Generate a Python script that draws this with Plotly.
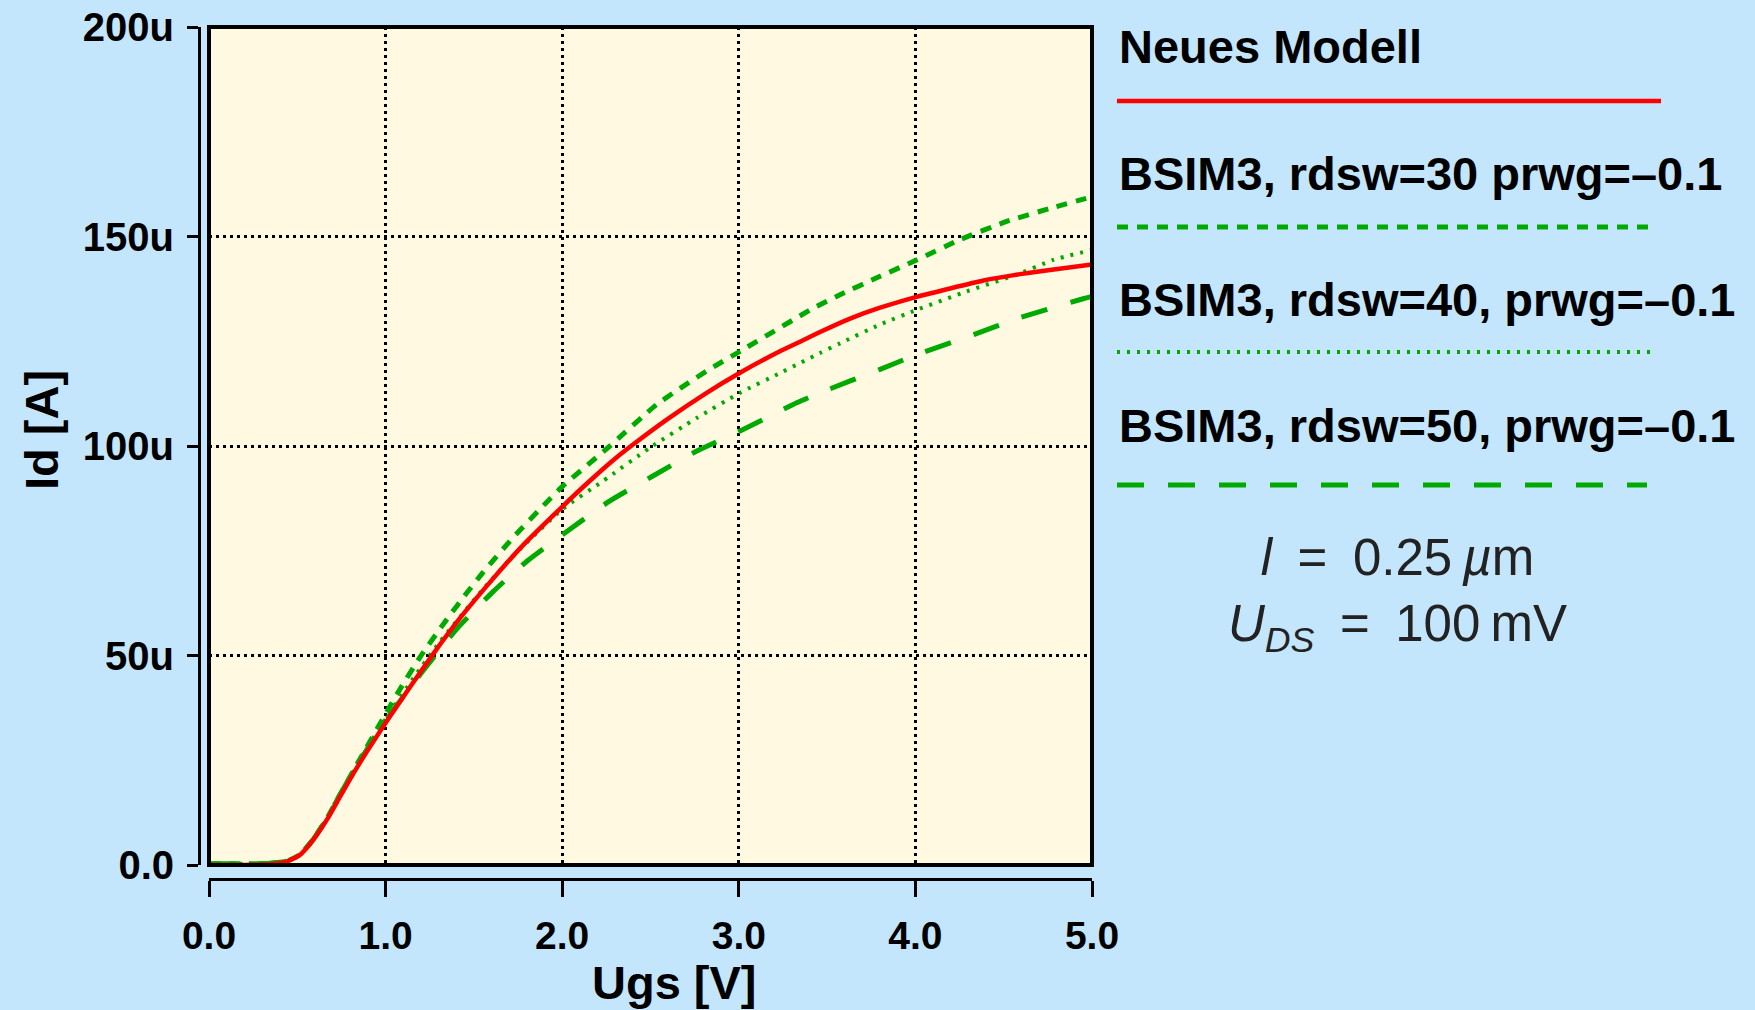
import plotly.graph_objects as go

# ---------------- data ----------------
ugs_neu = [0, 0.2, 0.35, 0.44, 0.515, 0.59, 0.666, 0.742, 0.817, 0.893, 1.006, 1.157, 1.27, 1.421,
           1.61, 1.78, 2.0, 2.157, 2.309, 2.403, 2.592, 2.818, 3.007, 3.233, 3.347, 3.46, 3.63, 3.80,
           4.007, 4.196, 4.385, 4.574, 4.762, 5.0]
id_neu = [0, 0, 0.2, 0.8, 2.4, 6.0, 10.7, 16.3, 21.8, 27.0, 34.3, 43.6, 50.4, 58.9,
          68.4, 76.4, 85.5, 91.7, 97.3, 100.4, 106.3, 112.7, 117.5, 122.6, 124.9, 127.2, 130.4, 133.0,
          135.6, 137.6, 139.5, 140.9, 142.0, 143.3]

ugs_rdsw30 = [0, 0.2, 0.35, 0.44, 0.515, 0.59, 0.666, 0.742, 0.855, 1.006, 1.082, 1.195, 1.346, 1.459,
              1.553, 1.723, 1.912, 2.0, 2.27, 2.535, 2.818, 3.007, 3.422, 3.573, 3.80, 4.007, 4.25,
              4.517, 4.762, 5.0]
id_rdsw30 = [0.3, 0.3, 0.4, 0.9, 2.5, 6.1, 11.0, 16.8, 25.3, 36.5, 42.0, 49.6, 58.6, 64.9,
             69.9, 78.2, 86.6, 90.3, 100.0, 109.9, 117.9, 122.6, 132.9, 136.1, 140.5, 144.4, 149.2,
             153.6, 156.7, 159.5]

ugs_rdsw40 = [0, 0.2, 0.35, 0.44, 0.515, 0.59, 0.666, 0.742, 0.817, 0.893, 1.006, 1.157, 1.308, 1.535,
              1.723, 2.0, 2.233, 2.497, 2.762, 3.007, 3.233, 3.347, 3.46, 3.573, 3.80, 4.007, 4.29,
              4.574, 4.78, 5.0]
id_rdsw40 = [0.3, 0.3, 0.4, 0.9, 2.5, 6.1, 11.0, 16.8, 22.3, 27.9, 35.2, 44.6, 53.3, 65.0,
             73.8, 84.9, 91.7, 99.6, 106.7, 112.7, 117.4, 119.8, 122.2, 124.5, 129.0, 132.5, 136.9,
             140.9, 144.4, 146.8]

ugs_rdsw50 = [0, 0.2, 0.35, 0.44, 0.515, 0.59, 0.666, 0.742, 0.817, 0.893, 1.006, 1.213, 1.40, 1.61,
              1.80, 2.0, 2.27, 2.516, 2.762, 3.007, 3.328, 3.46, 3.80, 4.007, 4.33, 4.59, 4.93, 5.0]
id_rdsw50 = [0.3, 0.3, 0.4, 0.9, 2.5, 6.1, 11.0, 16.8, 22.3, 27.5, 34.8, 46.4, 56.2, 65.3,
             72.5, 78.8, 86.9, 92.9, 98.8, 103.6, 110.3, 112.7, 118.3, 121.8, 126.6, 130.6, 134.9, 135.7]

series_names = ["Neues Modell",
                "BSIM3, rdsw=30 prwg=\u20130.1",
                "BSIM3, rdsw=40, prwg=\u20130.1",
                "BSIM3, rdsw=50, prwg=\u20130.1"]

x_tickvals = [0, 1, 2, 3, 4, 5]
x_ticktext = ["0.0", "1.0", "2.0", "3.0", "4.0", "5.0"]
y_tickvals = [0, 50, 100, 150, 200]
y_ticktext = ["0.0", "50u", "100u", "150u", "200u"]

# ---------------- styles ----------------
RED = "#ff0000"
GREEN = "#00aa00"
BG = "#c4e6fd"
styles = [
    dict(color=RED, width=4.5, dash="solid"),
    dict(color=GREEN, width=5, dash="11px,9px"),
    dict(color=GREEN, width=4, dash="3px,7px"),
    dict(color=GREEN, width=5, dash="27px,24px"),
]
xs = [ugs_neu, ugs_rdsw30, ugs_rdsw40, ugs_rdsw50]
ys = [id_neu, id_rdsw30, id_rdsw40, id_rdsw50]

W, H = 1755, 1010
FONT = "Liberation Sans, Arial, Helvetica, sans-serif"

fig = go.Figure()
order = [3, 2, 1, 0]
for i in order:
    fig.add_trace(go.Scatter(x=xs[i], y=ys[i], mode="lines", name=series_names[i],
                             line=dict(shape="spline", smoothing=0.5, **styles[i]),
                             showlegend=False))

def px_x(p):
    return p / W

def px_y(p):
    return (H - p) / H

xdom = [px_x(209), px_x(1092)]
ydom = [px_y(865), px_y(27)]

fig.update_layout(
    width=W, height=H,
    autosize=False,
    margin=dict(l=0, r=0, t=0, b=0, pad=0, autoexpand=False),
    paper_bgcolor=BG,
    plot_bgcolor="#fef9e0",
    font=dict(family=FONT, color="black"),
    xaxis=dict(domain=xdom, range=[0, 5], anchor="free", position=px_y(879), automargin=False,
               tickvals=x_tickvals, ticktext=x_ticktext,
               ticks="outside", ticklen=16, tickwidth=3, tickcolor="black",
               showline=True, linewidth=3, linecolor="black",
               showgrid=True, gridcolor="black", gridwidth=2.5, griddash="3px,4px",
               zeroline=False, ticklabelstandoff=5,
               tickfont=dict(size=39, family=FONT, weight="bold")),
    yaxis=dict(domain=ydom, range=[0, 200], anchor="free", position=px_x(199), automargin=False,
               tickvals=y_tickvals, ticktext=y_ticktext,
               ticks="outside", ticklen=11, tickwidth=3, tickcolor="black",
               showline=True, linewidth=3, linecolor="black",
               showgrid=True, gridcolor="black", gridwidth=2.5, griddash="3px,4px",
               zeroline=False, ticklabelstandoff=5,
               tickfont=dict(size=40, family=FONT, weight="bold")),
)

# plot frame
fig.add_shape(type="rect", xref="x domain", yref="y domain", x0=0, x1=1, y0=0, y1=1,
              line=dict(color="black", width=4), layer="above")

# axis titles
fig.add_annotation(text="Ugs [V]", xref="paper", yref="paper", x=px_x(674), y=px_y(982),
                   showarrow=False, xanchor="center", yanchor="middle",
                   font=dict(size=47, family=FONT, weight="bold"))
fig.add_annotation(text="Id [A]", xref="paper", yref="paper", x=px_x(41), y=px_y(430),
                   showarrow=False, xanchor="center", yanchor="middle", textangle=-90,
                   font=dict(size=47, family=FONT, weight="bold"))

# legend: text above a sample line
leg_x0 = 1117
leg_text_y = [46, 173, 299, 425]
leg_line_y = [101, 227, 352, 485]
leg_line_x1 = [1661, 1652, 1656, 1647]
for i in range(4):
    fig.add_annotation(text=series_names[i], xref="paper", yref="paper",
                       x=px_x(leg_x0), y=px_y(leg_text_y[i]), showarrow=False,
                       xanchor="left", yanchor="middle",
                       font=dict(size=47, family=FONT, weight="bold"))
    fig.add_shape(type="line", xref="paper", yref="paper",
                  x0=px_x(leg_x0), x1=px_x(leg_line_x1[i]),
                  y0=px_y(leg_line_y[i]), y1=px_y(leg_line_y[i]),
                  line=dict(color=styles[i]["color"], width=styles[i]["width"],
                            dash=styles[i]["dash"]))

# parameter annotation (two lines in one text block)
fig.add_annotation(
    text="<i>l</i>\u2002=\u20020.25\u2009<i>\u00b5</i>m<br>"
         "<i>U</i><sub><i>DS</i></sub>\u2002=\u2002100\u2009mV",
    xref="paper", yref="paper", x=px_x(1397), y=px_y(594), showarrow=False,
    xanchor="center", yanchor="middle", align="center",
    font=dict(size=51, family="Liberation Sans, Arial, sans-serif", color="#222222"))

fig.write_html("out.html", config={"displayModeBar": False},
               post_script="document.body.style.margin='0';document.body.style.background='" + BG + "';")
